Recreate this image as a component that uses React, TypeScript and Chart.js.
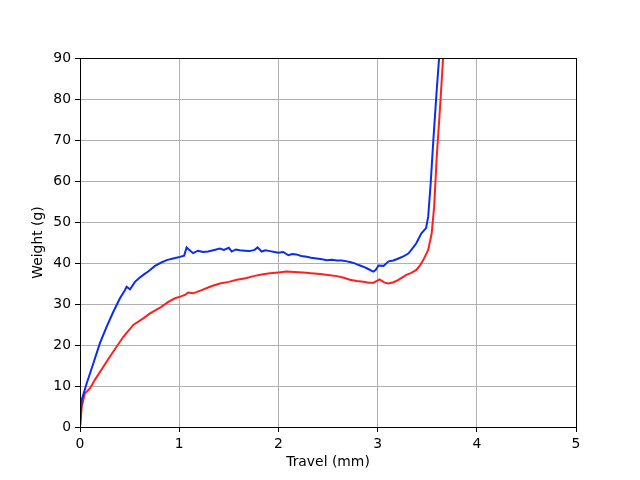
import React, { useEffect, useRef } from "react";
import { Chart, registerables } from "chart.js";

Chart.register(...registerables);

const xTicks = [0, 1, 2, 3, 4, 5];
const yTicks = [0, 10, 20, 30, 40, 50, 60, 70, 80, 90];

const blueX = [0, 0.017, 0.067, 0.134, 0.2, 0.269, 0.336, 0.403, 0.454, 0.47, 0.504, 0.554, 0.6, 0.638, 0.69, 0.756, 0.81, 0.874, 0.92, 0.96, 1.008, 1.05, 1.075, 1.1, 1.14, 1.19, 1.24, 1.29, 1.344, 1.41, 1.45, 1.5, 1.53, 1.57, 1.61, 1.66, 1.71, 1.76, 1.79, 1.83, 1.87, 1.915, 1.96, 2.0, 2.05, 2.1, 2.14, 2.18, 2.23, 2.285, 2.33, 2.386, 2.44, 2.487, 2.54, 2.588, 2.64, 2.69, 2.73, 2.77, 2.81, 2.856, 2.9, 2.957, 2.98, 3.01, 3.06, 3.11, 3.16, 3.21, 3.26, 3.31, 3.35, 3.39, 3.44, 3.488, 3.51, 3.535, 3.562, 3.596, 3.62];
const blueY = [0, 6.6, 10.6, 15.5, 20.4, 24.5, 28.1, 31.4, 33.4, 34.2, 33.6, 35.4, 36.4, 37.1, 38.0, 39.3, 40.0, 40.7, 41.0, 41.2, 41.5, 41.8, 43.8, 43.2, 42.4, 43.0, 42.7, 42.8, 43.1, 43.5, 43.2, 43.7, 42.8, 43.3, 43.1, 43.0, 42.9, 43.2, 43.8, 42.8, 43.1, 42.9, 42.7, 42.5, 42.7, 41.9, 42.2, 42.1, 41.7, 41.5, 41.3, 41.1, 40.9, 40.7, 40.8, 40.6, 40.6, 40.4, 40.2, 39.9, 39.5, 39.1, 38.6, 37.9, 38.3, 39.4, 39.3, 40.4, 40.6, 41.1, 41.6, 42.3, 43.5, 44.8, 47.2, 48.5, 51.3, 59.4, 70, 82.2, 90];

const redX = [0, 0.017, 0.05, 0.1, 0.15, 0.235, 0.336, 0.437, 0.537, 0.638, 0.706, 0.75, 0.82, 0.89, 0.958, 1.01, 1.058, 1.09, 1.14, 1.227, 1.28, 1.33, 1.41, 1.5, 1.58, 1.67, 1.75, 1.83, 1.915, 2.0, 2.08, 2.16, 2.25, 2.33, 2.42, 2.5, 2.59, 2.66, 2.72, 2.79, 2.856, 2.91, 2.96, 3.02, 3.07, 3.11, 3.16, 3.21, 3.25, 3.29, 3.34, 3.39, 3.43, 3.46, 3.51, 3.545, 3.57, 3.596, 3.63, 3.66];
const redY = [0, 4.9, 8.2, 9.4, 11.5, 14.7, 18.4, 22.0, 24.9, 26.5, 27.7, 28.3, 29.3, 30.5, 31.4, 31.8, 32.2, 32.8, 32.6, 33.4, 33.9, 34.4, 35.0, 35.4, 35.9, 36.3, 36.8, 37.2, 37.5, 37.7, 37.9, 37.8, 37.7, 37.5, 37.3, 37.1, 36.8, 36.4, 35.9, 35.6, 35.4, 35.2, 35.2, 36.0, 35.2, 35.0, 35.3, 35.9, 36.5, 37.1, 37.6, 38.3, 39.5, 40.7, 43.2, 47.2, 53.7, 65.9, 78.1, 90];

const FONT = "'DejaVu Sans', sans-serif";
const FS = 13.9;

const frame = {
  id: "frame",
  afterDatasetsDraw(chart: any) {
    const { ctx, chartArea: a } = chart;
    ctx.save();
    ctx.strokeStyle = "#000";
    ctx.lineWidth = 1;
    ctx.strokeRect(Math.round(a.left) + 0.5, Math.round(a.top) + 0.5, Math.round(a.right - a.left), Math.round(a.bottom - a.top));
    ctx.restore();
  },
};

export default function App() {
  const ref = useRef<HTMLCanvasElement | null>(null);
  useEffect(() => {
    document.body.style.margin = "0";
    const chart = new Chart(ref.current as HTMLCanvasElement, {
      type: "line",
      data: {
        datasets: [
          {
            data: blueX.map((x, i) => ({ x, y: blueY[i] })),
            borderColor: "#0b2cf5",
            borderWidth: 2,
            pointRadius: 0,
            tension: 0,
          },
          {
            data: redX.map((x, i) => ({ x, y: redY[i] })),
            borderColor: "#ff1f1f",
            borderWidth: 2,
            pointRadius: 0,
            tension: 0,
          },
        ],
      },
      options: {
        animation: false,
        responsive: false,
        layout: { padding: { left: 0, right: 64, top: 58, bottom: 0 } },
        plugins: { legend: { display: false }, tooltip: { enabled: false } },
        scales: {
          x: {
            type: "linear",
            min: 0,
            max: 5,
            afterFit: (s: any) => { s.height = 53; },
            afterBuildTicks: (s: any) => { s.ticks = xTicks.map((v) => ({ value: v })); },
            grid: { color: "#b0b0b0", lineWidth: 1, tickColor: "#000", tickLength: 5 },
            border: { display: false },
            ticks: { color: "#000", font: { family: FONT, size: FS }, padding: 4, maxRotation: 0 },
            title: { display: true, text: "Travel (mm)", color: "#000", font: { family: FONT, size: FS }, padding: { top: 0, bottom: 9 } },
          },
          y: {
            type: "linear",
            min: 0,
            max: 90,
            afterFit: (s: any) => { s.width = 80; },
            afterBuildTicks: (s: any) => { s.ticks = yTicks.map((v) => ({ value: v })); },
            grid: { color: "#b0b0b0", lineWidth: 1, tickColor: "#000", tickLength: 5 },
            border: { display: false },
            ticks: { color: "#000", font: { family: FONT, size: FS }, padding: 4 },
            title: { display: true, text: "Weight (g)", color: "#000", font: { family: FONT, size: FS }, padding: { top: 30, bottom: 0 } },
          },
        },
      },
      plugins: [frame],
    } as any);
    return () => chart.destroy();
  }, []);
  return (
    <div style={{ position: "absolute", left: 0, top: 0, width: 640, height: 480, background: "#fff" }}>
      <canvas ref={ref} width={640} height={480} />
    </div>
  );
}
